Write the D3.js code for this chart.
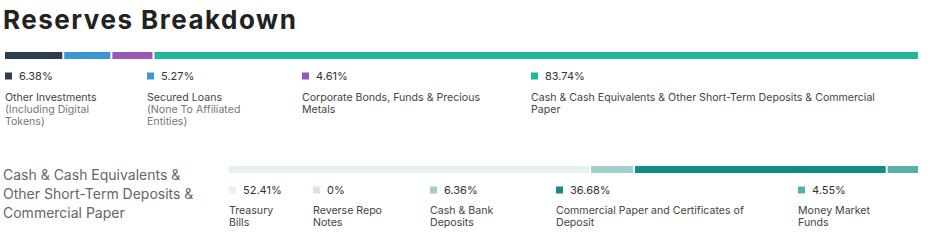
<!DOCTYPE html>
<html>
<head>
<meta charset="utf-8">
<script src="https://cdn.jsdelivr.net/npm/d3@7"></script>
<style>
  body { margin: 0; background: #fff; font-family: Inter, "Noto Sans", sans-serif; }
  svg { display: block; }
</style>
</head>
<body>
<div id="chart"></div>
<script>
// ── Data ─────────────────────────────────────────────────────────────────────
const reserveNames  = ['Other Investments', 'Secured Loans', 'Corporate Bonds, Funds & Precious Metals',
                       'Cash & Cash Equivalents & Other Short-Term Deposits & Commercial Paper'];
const reserveNotes  = ['(Including Digital Tokens)', '(None To Affiliated Entities)', '', ''];
const reserveValues = [6.38, 5.27, 4.61, 83.74];
const reserveColors = ['#2e3e50', '#3a97d6', '#9a58b5', '#1fb797'];

const cashTitle  = 'Cash & Cash Equivalents & Other Short-Term Deposits & Commercial Paper';
const cashNames  = ['Treasury Bills', 'Reverse Repo Notes', 'Cash & Bank Deposits',
                    'Commercial Paper and Certificates of Deposit', 'Money Market Funds'];
const cashValues = [52.41, 0, 6.36, 36.68, 4.55];
const cashColors = ['#e6f2f0', '#d3e6e2', '#9fd0cc', '#138b86', '#56b1ad'];

// ── Layout ───────────────────────────────────────────────────────────────────
const W = 950, H = 250;
const GAP = 2;
const LABEL_FS = 10.6, LINE_H = 12.2;

const svg = d3.select('#chart').append('svg').attr('width', W).attr('height', H);

svg.append('text')
  .attr('x', 3).attr('y', 29)
  .attr('font-size', 26).attr('font-weight', 700).attr('fill', '#222')
  .attr('letter-spacing', 1.5)
  .text('Reserves Breakdown');

// wrap text into lines by max width
function wrap(textSel, str, maxW, lineH) {
  const words = str.split(' ');
  let line = [], tspan = textSel.append('tspan').attr('x', textSel.attr('x')).attr('dy', 0);
  words.forEach(w => {
    line.push(w);
    tspan.text(line.join(' '));
    if (tspan.node().getComputedTextLength() > maxW && line.length > 1) {
      line.pop();
      tspan.text(line.join(' '));
      line = [w];
      tspan = textSel.append('tspan').attr('x', textSel.attr('x')).attr('dy', lineH).text(w);
    }
  });
}

// stacked bar + legend block
function block(opt) {
  const { names, notes, values, colors, x0, x1, barY, barH, legX, legY, labOff, wrapW } = opt;
  const total = d3.sum(values);
  const x = d3.scaleLinear().domain([0, total]).range([x0, x1]);
  const starts = d3.cumsum([0, ...values]);

  svg.append('g').selectAll('rect').data(values).join('rect')
    .attr('x', (d, i) => x(starts[i]) + (i > 0 ? GAP / 2 : 0))
    .attr('y', barY)
    .attr('width', (d, i) => Math.max(0, x(starts[i] + d) - x(starts[i]) - (i > 0 && i < values.length - 1 ? GAP : GAP / 2)))
    .attr('height', barH)
    .attr('fill', (d, i) => colors[i]);

  const leg = svg.append('g').selectAll('g').data(values).join('g')
    .attr('transform', (d, i) => `translate(${legX[i]},${legY})`);

  leg.append('rect').attr('x', 0).attr('y', -7.5).attr('width', 7).attr('height', 7)
    .attr('fill', (d, i) => colors[i]);

  leg.append('text').attr('x', 14).attr('y', 0)
    .attr('font-size', 11).attr('fill', '#333')
    .text(d => `${d}%`);

  leg.each(function (d, i) {
    const g = d3.select(this);
    const t = g.append('text').attr('x', 0).attr('y', labOff)
      .attr('font-size', LABEL_FS).attr('fill', '#444');
    wrap(t, names[i], wrapW[i], LINE_H);
    if (notes && notes[i]) {
      const n = t.selectAll('tspan').size();
      const t2 = g.append('text').attr('x', 0).attr('y', labOff + n * LINE_H)
        .attr('font-size', LABEL_FS).attr('fill', '#777');
      wrap(t2, notes[i], wrapW[i], LINE_H);
    }
  });
}

block({
  names: reserveNames, notes: reserveNotes, values: reserveValues, colors: reserveColors,
  x0: 5, x1: 918, barY: 52, barH: 7,
  legX: [5, 147, 302, 531], legY: 80, labOff: 21, wrapW: [110, 110, 190, 360]
});

// section title for the cash breakdown
const st = svg.append('text').attr('x', 3).attr('y', 180)
  .attr('font-size', 14).attr('fill', '#666');
wrap(st, cashTitle, 195, 19);

block({
  names: cashNames, notes: null, values: cashValues, colors: cashColors,
  x0: 229, x1: 918, barY: 166, barH: 7,
  legX: [229, 313, 430, 556, 798], legY: 194, labOff: 20, wrapW: [60, 75, 80, 200, 80]
});
</script>
</body>
</html>
